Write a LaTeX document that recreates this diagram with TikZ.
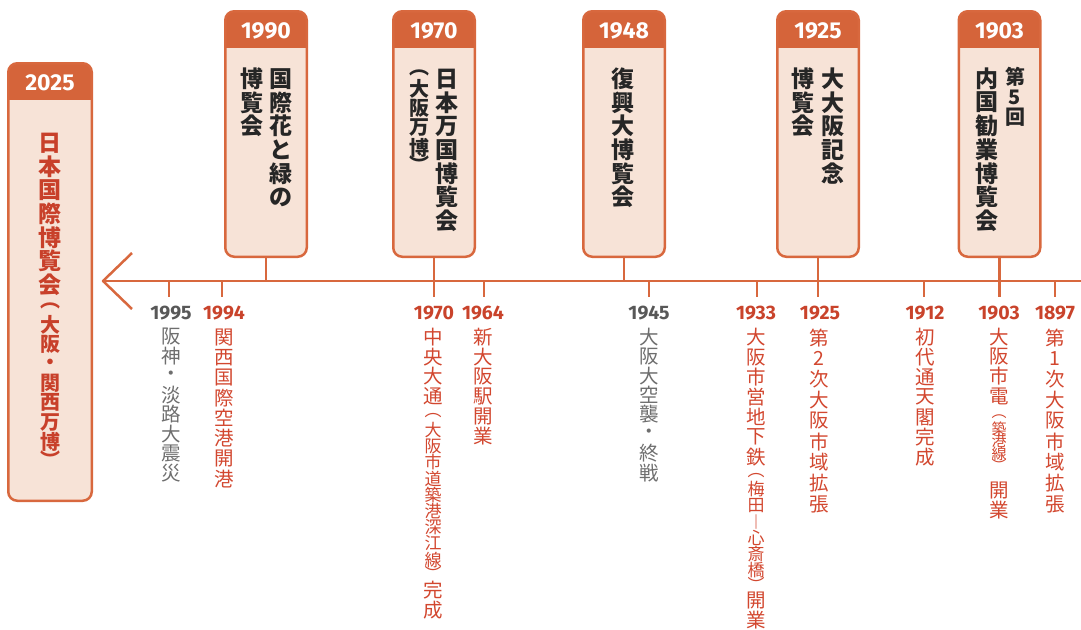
\documentclass[tikz,border=0pt]{standalone}
\usepackage{fontspec}
\setmainfont{Fira Sans}
\newfontfamily\jp{Noto Sans CJK JP}
\definecolor{tlorange}{HTML}{D8683E}
\definecolor{hdr}{HTML}{D5643A}
\definecolor{peach}{HTML}{F7E3D7}
\definecolor{boxtext}{HTML}{262626}
\definecolor{evred}{HTML}{D2472F}
\definecolor{evgray}{HTML}{6E6E6E}
\definecolor{yrgray}{HTML}{585858}
\definecolor{yrred}{HTML}{C9432B}
\definecolor{expored}{HTML}{C8402A}
\newcommand\fbig{\jp\bfseries\fontsize{23}{23}\selectfont}
\newcommand\fparen{\jp\bfseries\fontsize{20}{20}\selectfont}
\newcommand\flow{\jp\fontsize{19.5}{19.5}\selectfont}
\newcommand\fsm{\jp\fontsize{17}{17}\selectfont}
\newcommand\ftiny{\jp\fontsize{15}{15}\selectfont}
\makeatletter
\newcommand\vcell[3]{\hbox to 0pt{\hss\vbox to #1{\vss\hbox{#2#3}\vss}\hss}}
\newcommand\vpart[3]{\def\vp@p{#1}\def\vp@f{#2}\vp@loop#3\vp@end}
\def\vp@loop#1{\ifx#1\vp@end\else\vcell{\vp@p}{\vp@f}{#1}\expandafter\vp@loop\fi}
\newcommand\vcolumn[1]{\vbox{\offinterlineskip#1}}
\makeatother
\tikzset{
  tl/.style={draw=tlorange, line width=2.5pt},
  tickline/.style={draw=tlorange, line width=2.2pt},
  boxshape/.style={inner sep=0pt, outer sep=0pt, fill=peach, rounded corners=9pt},
  border/.style={draw=tlorange, line width=2.5pt, rounded corners=9pt},
  hdrtext/.style={anchor=base, text=white, font=\bfseries\fontsize{23}{23}\selectfont, inner sep=0pt},
  yr/.style={anchor=base, font=\bfseries\fontsize{19.5}{19.5}\selectfont, inner sep=0pt},
  col/.style={anchor=north, inner sep=0pt},
}
\newcommand\expo[6]{%
  \node[boxshape, minimum width=#4, minimum height=#5] (#1) at (#2,#3) {};
  \begin{scope}
    \clip[rounded corners=9pt] (#1.south west) rectangle (#1.north east);
    \fill[hdr] (#1.north west) rectangle ([yshift=-37pt]#1.north east);
  \end{scope}
  \draw[border] (#1.south west) rectangle (#1.north east);
  \node[hdrtext] (#1y) at ([yshift=-27.5pt]#1.north) {#6};
}
\begin{document}
\begin{tikzpicture}[x=1pt,y=-1pt]
\useasboundingbox (0,0) rectangle (1081,629);

% boxes
\expo{b2025}{50}{282}{83.5pt}{437.5pt}{2025}
\expo{b1990}{266}{134}{81.5pt}{245.5pt}{1990}
\expo{b1970}{434}{134}{81.5pt}{245.5pt}{1970}
\expo{b1948}{624}{134}{81.5pt}{245.5pt}{1948}
\expo{b1925}{818}{134}{81.5pt}{245.5pt}{1925}
\expo{b1903}{999.5}{134}{81.5pt}{245.5pt}{1903}

% box texts
\node[col, text=expored] (t2025) at (50,131) {\vcolumn{\vpart{23.6pt}{\fbig}{日本国際博覧会}\vpart{19pt}{\fparen}{︵}\vpart{19.4pt}{\fparen}{大阪・関西万博}\vpart{16pt}{\fparen}{︶}}};
\node[col, text=boxtext] (t1990a) at (281,67) {\vcolumn{\vpart{23.6pt}{\fbig}{国際花と緑の}}};
\node[col, text=boxtext] (t1990b) at (252,67) {\vcolumn{\vpart{23.6pt}{\fbig}{博覧会}}};
\node[col, text=boxtext] (t1970a) at (447,67) {\vcolumn{\vpart{23.6pt}{\fbig}{日本万国博覧会}}};
\node[col, text=boxtext] (t1970b) at (419,66) {\vcolumn{\vpart{13pt}{\fparen}{︵}\vpart{19.5pt}{\fparen}{大阪万博}\vpart{13pt}{\fparen}{︶}}};
\node[col, text=boxtext] (t1948) at (623,67) {\vcolumn{\vpart{23.6pt}{\fbig}{復興大博覧会}}};
\node[col, text=boxtext] (t1925a) at (833,67) {\vcolumn{\vpart{23.6pt}{\fbig}{大大阪記念}}};
\node[col, text=boxtext] (t1925b) at (803,67) {\vcolumn{\vpart{23.6pt}{\fbig}{博覧会}}};
\node[col, text=boxtext] (t1903a) at (1015,67) {\vcolumn{\vpart{20pt}{\fparen}{第5回}}};
\node[col, text=boxtext] (t1903b) at (987,67) {\vcolumn{\vpart{23.6pt}{\fbig}{内国勧業博覧会}}};

% timeline
\coordinate (tip) at (103,281);
\coordinate (tend) at (1081,281);
\coordinate (armU) at (132,253);
\coordinate (armD) at (132,309);
\coordinate (tk) at (0,297);
\draw[tl] (tip) -- (tend);
\draw[tl, line join=round] (armU) -- (tip) -- (armD);

% connectors from boxes
\draw[tickline] (b1990.south) -- (b1990.south |- tip);
\draw[tickline] (b1970.south) -- (b1970.south |- tk);
\draw[tickline] (b1948.south) -- (b1948.south |- tip);
\draw[tickline] (b1925.south) -- (b1925.south |- tk);
\draw[tickline] (b1903.south) -- (b1903.south |- tk);

% ticks
\foreach \n/\x in {1995/169, 1994/222, 1964/484, 1945/649, 1933/757, 1912/924, 1897/1055} {
  \coordinate (k\n) at (\x,297);
  \draw[tickline] (k\n |- tip) -- (k\n);
}

% year labels
\node[yr, text=yrgray] (y1995) at (171,319) {1995};
\node[yr, text=yrred]  (y1994) at (224,319) {1994};
\node[yr, text=yrred]  (y1970) at (434,319) {1970};
\node[yr, text=yrred]  (y1964) at (483,319) {1964};
\node[yr, text=yrgray] (y1945) at (649,319) {1945};
\node[yr, text=yrred]  (y1933) at (756,319) {1933};
\node[yr, text=yrred]  (y1925) at (820,319) {1925};
\node[yr, text=yrred]  (y1912) at (925,319) {1912};
\node[yr, text=yrred]  (y1903) at (999,319) {1903};
\node[yr, text=yrred]  (y1897) at (1055,319) {1897};

% event texts
\node[col, text=evgray] (e1995) at (171,327) {\vcolumn{\vpart{19.4pt}{\flow}{阪神・淡路大震災}}};
\node[col, text=evred] (e1994) at (224,327) {\vcolumn{\vpart{20.2pt}{\flow}{関西国際空港開港}}};
\node[col, text=evred] (e1970) at (433,327) {\vcolumn{\vpart{19.7pt}{\flow}{中央大通}\kern4pt\vpart{12pt}{\fsm}{︵}\vpart{16.2pt}{\fsm}{大阪市道築港深江線}\vpart{12pt}{\fsm}{︶}\vpart{20pt}{\flow}{完成}}};
\node[col, text=evred] (e1964) at (483,327) {\vcolumn{\vpart{19.8pt}{\flow}{新大阪駅開業}}};
\node[col, text=evgray] (e1945) at (649,327) {\vcolumn{\vpart{19.4pt}{\flow}{大阪大空襲・終戦}}};
\node[col, text=evred] (e1933) at (756,327) {\vcolumn{\vpart{20pt}{\flow}{大阪市営地下鉄}\kern2pt\vpart{12pt}{\fsm}{︵}\vpart{16.2pt}{\fsm}{梅田︱心斎橋}\vpart{12pt}{\fsm}{︶}\vpart{20pt}{\flow}{開業}}};
\node[col, text=evred] (e1925) at (819,327) {\vcolumn{\vpart{20.8pt}{\flow}{第2次大阪市域拡張}}};
\node[col, text=evred] (e1912) at (925,327) {\vcolumn{\vpart{20pt}{\flow}{初代通天閣完成}}};
\node[col, text=evred] (e1903) at (999,327) {\vcolumn{\vpart{19.7pt}{\flow}{大阪市電}\kern6pt\vpart{10pt}{\ftiny}{︵}\vpart{12.7pt}{\ftiny}{築港線}\vpart{10pt}{\ftiny}{︶}\kern10pt\vpart{20pt}{\flow}{開業}}};
\node[col, text=evred] (e1897) at (1055,327) {\vcolumn{\vpart{20.8pt}{\flow}{第1次大阪市域拡張}}};
\end{tikzpicture}
\end{document}
